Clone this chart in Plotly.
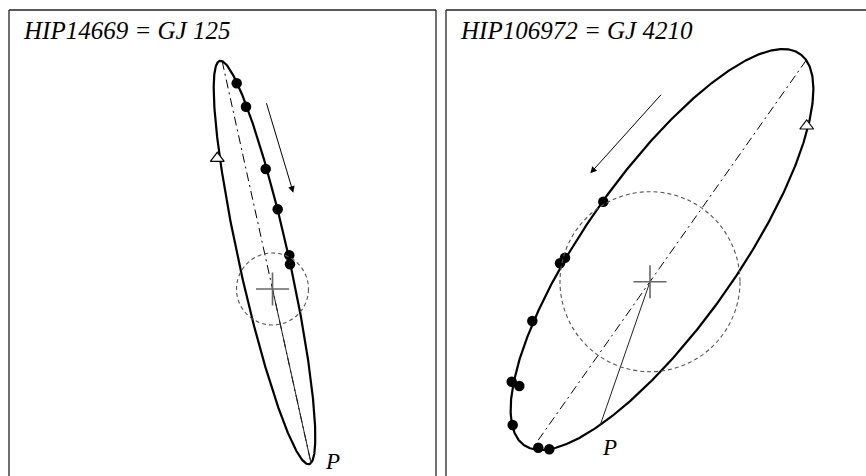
import numpy as np
import plotly.graph_objects as go

W, H = 866, 476

# ───────────── orbit 1 : HIP14669 = GJ 125 (offsets from the primary) ─────────────
name_1     = "HIP14669 = GJ 125"
center_1   = [-8.0, 26.5]          # centre of the apparent ellipse
semi_u_1   = [46.5, -200.5]        # conjugate semi-diameters
semi_v_1   = [20.5, 22.5]
peri_t_1   = 0.0                   # ellipse parameter of periastron (deg)
obs_x_1    = [-35.8, -26.5, -6.8, 5.2, 16.8, 17.5]
obs_y_1    = [205.7, 182.3, 120.0, 79.7, 33.7, 24.7]
node_1     = [-55.2, 130.7]
circle_r_1 = 36
arrow_1    = [[-6.5, 187.3], [20.8, 96.3]]   # tail, head
p_lab_1    = [59.5, -172.5]

# ───────────── orbit 2 : HIP106972 = GJ 4210 ─────────────
name_2     = "HIP106972 = GJ 4210"
center_2   = [12.0, 32.2]
semi_u_2   = [91.0, 0.0]
semi_v_2   = [121.0, 200.5]
peri_t_2   = -61.0
obs_x_2    = [-46.7, -90.0, -85.0, -117.7, -138.3, -130.7, -137.3, -111.7, -100.7]
obs_y_2    = [80.0, 18.4, 24.0, -39.3, -100.0, -104.3, -143.3, -166.0, -167.6]
node_2     = [156.7, 155.7]
circle_r_2 = 90
arrow_2    = [[12.3, 188.4], [-59.7, 108.4]]
p_lab_2    = [-40.5, -166.0]

# panel frames / axis windows (pixels)
panels = [
    dict(px0=9, px1=436, fx=272.5, fy=289.0),
    dict(px0=446, px1=866, fx=650.0, fy=281.7),
]
TOP = 10

fig = go.Figure()
SERIF = "Liberation Serif"


def add_orbit(i, name, c, u, v, peri_t, ox, oy, node, r, arrow, plab):
    xa = "x" if i == 1 else "x2"
    ya = "y" if i == 1 else "y2"
    c, u, v = np.array(c), np.array(u), np.array(v)
    M = np.column_stack([u, v])

    t = np.linspace(0, 2 * np.pi, 721)
    ell = c[:, None] + M @ np.vstack([np.cos(t), np.sin(t)])
    fig.add_trace(go.Scatter(x=ell[0], y=ell[1], mode="lines", xaxis=xa, yaxis=ya,
                             line=dict(color="black", width=2.2), hoverinfo="skip"))

    # line through the primary, parallel to the apparent major axis
    w, vec = np.linalg.eigh(M @ M.T)
    d = vec[:, np.argmax(w)]
    Mi = np.linalg.inv(M)
    a, b = Mi @ d, Mi @ c
    A, B, C = a @ a, -2 * (a @ b), b @ b - 1
    s = np.array([(-B + sg * np.sqrt(B * B - 4 * A * C)) / (2 * A) for sg in (1, -1)])
    fig.add_trace(go.Scatter(x=s * d[0], y=s * d[1], mode="lines", xaxis=xa, yaxis=ya,
                             line=dict(color="black", width=1, dash="9px,4px,2px,4px"),
                             hoverinfo="skip"))

    # primary -> periastron
    tp = np.radians(peri_t)
    pp = c + M @ np.array([np.cos(tp), np.sin(tp)])
    fig.add_trace(go.Scatter(x=[0, pp[0]], y=[0, pp[1]], mode="lines", xaxis=xa, yaxis=ya,
                             line=dict(color="#222", width=1), hoverinfo="skip"))

    # dashed circle round the primary
    fig.add_shape(type="circle", xref=xa, yref=ya, x0=-r, x1=r, y0=-r, y1=r,
                  line=dict(color="#555", width=1.1, dash="4px,3px"))

    # cross on the primary
    arm = 16.5
    fig.add_trace(go.Scatter(x=[-arm, arm, None, 0, 0], y=[0, 0, None, -arm, arm],
                             mode="lines", xaxis=xa, yaxis=ya,
                             line=dict(color="#666", width=1.6), hoverinfo="skip"))

    # observations
    fig.add_trace(go.Scatter(x=ox, y=oy, mode="markers", xaxis=xa, yaxis=ya,
                             marker=dict(color="black", size=10.5), hoverinfo="skip"))

    # node marker
    fig.add_trace(go.Scatter(x=[node[0]], y=[node[1]], mode="markers", xaxis=xa, yaxis=ya,
                             marker=dict(symbol="triangle-up", color="white", size=12,
                                         line=dict(color="black", width=1.2)),
                             hoverinfo="skip"))

    # direction of motion
    fig.add_annotation(xref=xa, yref=ya, axref=xa, ayref=ya,
                       x=arrow[1][0], y=arrow[1][1], ax=arrow[0][0], ay=arrow[0][1],
                       text="", showarrow=True, arrowhead=2, arrowsize=1.3,
                       arrowwidth=1, arrowcolor="black")

    fig.add_annotation(xref=xa, yref=ya, x=plab[0], y=plab[1], text="P", showarrow=False,
                       font=dict(family=SERIF, size=23, color="black", style="italic"))

    p = panels[i - 1]
    fig.add_annotation(xref="paper", yref="paper", x=(p["px0"] + 12) / W, y=1 - 31 / H,
                       xanchor="left", yanchor="middle", text=name, showarrow=False,
                       font=dict(family=SERIF, size=25, color="black", style="italic"))


add_orbit(1, name_1, center_1, semi_u_1, semi_v_1, peri_t_1, obs_x_1, obs_y_1,
          node_1, circle_r_1, arrow_1, p_lab_1)
add_orbit(2, name_2, center_2, semi_u_2, semi_v_2, peri_t_2, obs_x_2, obs_y_2,
          node_2, circle_r_2, arrow_2, p_lab_2)

# axes: one data unit per pixel, origin on the primary
axes = {}
for k, p in enumerate(panels, start=1):
    sfx = "" if k == 1 else str(k)
    axes["xaxis" + sfx] = dict(domain=[p["px0"] / W, p["px1"] / W],
                               range=[p["px0"] - p["fx"], p["px1"] - p["fx"]],
                               visible=False, fixedrange=True)
    axes["yaxis" + sfx] = dict(domain=[0, 1 - TOP / H],
                               range=[p["fy"] - H, p["fy"] - TOP],
                               visible=False, fixedrange=True)

# frames (clipped at bottom / right like the original)
frame = dict(color="#222", width=1.3)
shapes = []
for p in panels:
    x0, x1 = p["px0"] / W, p["px1"] / W
    shapes.append(dict(type="line", xref="paper", yref="paper", x0=x0, x1=x0,
                       y0=-0.1, y1=1 - TOP / H, line=frame))
    shapes.append(dict(type="line", xref="paper", yref="paper", x0=x0, x1=min(x1, 1.05),
                       y0=1 - TOP / H, y1=1 - TOP / H, line=frame))
    if x1 < 1:
        shapes.append(dict(type="line", xref="paper", yref="paper", x0=x1, x1=x1,
                           y0=-0.1, y1=1 - TOP / H, line=frame))
for s in shapes:
    fig.add_shape(**s)

fig.update_layout(width=W, height=H, margin=dict(l=0, r=0, t=0, b=0),
                  plot_bgcolor="white", paper_bgcolor="white", showlegend=False,
                  hovermode=False, **axes)

fig.write_html("out.html", config={"displayModeBar": False, "staticPlot": True},
               post_script="document.body.style.margin='0';")
